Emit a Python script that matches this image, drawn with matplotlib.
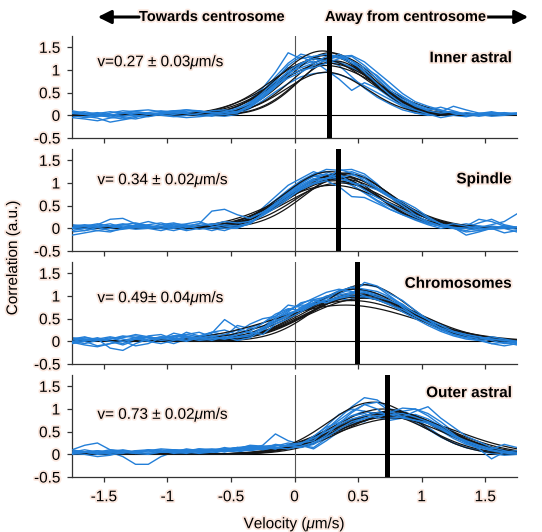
import numpy as np
import matplotlib
matplotlib.use("Agg")
import matplotlib.pyplot as plt
import matplotlib.patheffects as pe

plt.rcParams['font.family'] = ['Liberation Sans', 'DejaVu Sans']
plt.rcParams['mathtext.fontset'] = 'custom'
plt.rcParams['mathtext.rm'] = 'Liberation Sans'
plt.rcParams['mathtext.it'] = 'Liberation Sans:italic'

# ---------------- data ----------------
velocity = [-1.75, -1.65, -1.55, -1.45, -1.35, -1.25, -1.15, -1.05, -0.95, -0.85,
            -0.75, -0.65, -0.55, -0.45, -0.35, -0.25, -0.15, -0.05, 0.05, 0.15,
            0.25, 0.35, 0.45, 0.55, 0.65, 0.75, 0.85, 0.95, 1.05, 1.15,
            1.25, 1.35, 1.45, 1.55, 1.65, 1.75]

panel_names = ["Inner astral", "Spindle", "Chromosomes", "Outer astral"]
panel_speeds = ["v=0.27 \u00b1 0.03$\\mathit{\\mu}$m/s",
                "v= 0.34 \u00b1 0.02$\\mathit{\\mu}$m/s",
                "v= 0.49\u00b1 0.04$\\mathit{\\mu}$m/s",
                "v= 0.73 \u00b1 0.02$\\mathit{\\mu}$m/s"]
mean_velocity = [0.27, 0.34, 0.49, 0.73]

inner_traces = [
    [0.08,0.04,0.00,-0.04,0.02,0.05,0.03,0.06,0.04,0.02,0.05,0.08,0.10,0.18,0.35,0.60,0.95,1.38,1.25,1.30,1.20,1.10,0.85,0.60,0.40,0.25,0.12,0.05,0.02,0.04,0.02,0.05,0.03,0.00,0.02,0.01],
    [-0.05,-0.08,-0.12,-0.06,-0.02,0.00,-0.03,0.02,-0.02,-0.05,-0.03,0.00,0.02,0.08,0.22,0.45,0.70,0.98,1.15,1.25,1.20,1.35,1.20,0.95,0.70,0.45,0.25,0.12,0.03,-0.05,0.00,0.06,0.02,-0.02,0.00,0.03],
    [0.02,-0.02,-0.06,-0.15,-0.10,-0.05,0.05,0.00,0.08,0.05,0.02,-0.02,0.05,0.12,0.30,0.55,0.80,1.05,1.10,1.20,1.00,0.80,0.55,0.72,0.60,0.40,0.22,0.10,0.02,0.08,0.20,0.12,0.05,0.02,0.05,0.04],
    [0.10,0.05,0.02,0.00,0.06,0.10,0.12,0.08,0.10,0.12,0.08,0.05,0.08,0.15,0.28,0.50,0.75,0.95,1.05,1.15,1.30,1.28,1.15,1.00,0.80,0.55,0.35,0.20,0.10,0.05,0.08,0.02,0.04,0.08,0.03,0.05],
    [-0.03,0.00,0.04,0.08,0.05,0.00,-0.02,0.05,0.10,0.08,0.03,0.00,-0.02,0.02,0.15,0.32,0.52,0.70,0.85,0.92,0.95,0.90,0.80,0.65,0.50,0.35,0.20,0.10,0.05,0.02,0.00,-0.03,0.02,0.05,0.02,0.00],
    [0.05,0.08,0.02,-0.04,-0.08,-0.02,0.02,0.05,0.02,0.06,0.10,0.06,0.02,0.05,0.20,0.42,0.68,0.90,1.12,1.30,1.35,1.30,1.20,1.05,0.88,0.62,0.40,0.22,0.12,0.18,0.10,0.02,0.00,0.03,0.06,0.02],
    [0.00,-0.05,-0.02,0.05,0.10,0.08,0.04,0.02,0.05,0.00,0.02,0.08,0.05,0.10,0.25,0.48,0.78,1.10,1.30,1.15,1.25,1.18,1.05,0.90,0.70,0.50,0.30,0.15,0.08,0.02,0.05,0.02,-0.02,0.02,0.00,0.02],
    [0.04,0.02,0.00,0.02,-0.02,0.04,0.06,0.10,0.06,0.04,0.00,0.02,0.06,0.08,0.18,0.38,0.62,0.88,1.00,1.05,1.15,1.25,1.30,1.10,0.85,0.60,0.42,0.25,0.15,0.10,0.05,0.00,0.04,0.06,0.04,0.03],
    [0.00,0.03,0.06,0.02,-0.05,-0.08,-0.02,0.03,0.08,0.12,0.10,0.05,0.03,0.10,0.25,0.52,0.85,1.15,1.35,1.28,1.22,1.15,1.08,0.90,0.65,0.42,0.20,0.05,0.00,0.03,0.05,0.03,0.00,0.02,0.03,0.02],
    [0.06,0.02,-0.02,0.00,0.04,0.08,0.05,0.00,-0.03,0.00,0.04,0.10,0.12,0.08,0.18,0.40,0.65,0.82,0.95,1.10,1.22,1.30,1.32,1.18,0.95,0.72,0.48,0.30,0.20,0.12,0.05,0.02,0.00,0.01,0.03,0.05],
]
spindle_traces = [
    [0.05,0.02,0.08,0.20,0.22,0.10,0.05,0.02,0.08,0.05,0.00,0.05,0.10,0.15,0.25,0.40,0.62,0.85,1.05,1.20,1.25,1.15,1.05,0.90,0.70,0.52,0.35,0.22,0.12,0.05,0.02,0.05,0.20,0.15,0.05,0.00],
    [-0.15,-0.10,-0.05,0.00,0.05,0.02,0.00,-0.05,0.02,0.05,0.10,0.38,0.42,0.30,0.22,0.35,0.55,0.72,0.90,1.05,1.10,1.20,1.00,0.95,0.85,0.68,0.60,0.45,0.25,0.10,0.00,-0.05,0.02,0.08,0.15,0.32],
    [0.08,0.05,0.00,0.05,0.10,0.05,0.08,0.12,0.05,0.00,0.05,0.02,0.05,0.12,0.22,0.38,0.58,0.80,1.00,1.18,1.30,1.28,1.30,1.20,0.98,0.70,0.45,0.28,0.15,0.08,0.02,-0.15,-0.08,0.00,0.05,0.02],
    [0.00,0.05,0.02,-0.05,-0.02,0.02,0.05,0.00,-0.05,0.02,0.05,0.10,0.05,0.02,0.10,0.30,0.50,0.68,0.85,0.98,1.05,0.92,0.70,0.68,0.55,0.42,0.30,0.20,0.10,0.05,0.00,-0.08,-0.05,0.00,-0.10,-0.05],
    [-0.08,-0.05,0.00,0.03,0.08,0.12,0.06,0.02,0.00,-0.02,0.05,0.00,-0.05,0.05,0.20,0.45,0.70,0.95,1.10,1.25,1.15,1.05,0.95,0.78,0.60,0.42,0.30,0.18,0.08,0.00,0.05,0.10,0.05,0.02,0.00,-0.08],
    [0.02,0.00,-0.05,-0.08,0.00,0.05,0.02,0.08,0.12,0.05,0.10,0.08,0.15,0.12,0.15,0.28,0.45,0.65,0.88,1.00,1.10,1.12,1.18,1.10,0.90,0.72,0.55,0.38,0.22,0.10,0.02,0.00,0.05,0.02,0.05,0.02],
    [0.05,0.08,0.05,0.02,0.08,0.05,0.00,0.02,0.10,0.08,0.02,-0.05,0.02,0.10,0.18,0.35,0.55,0.78,0.98,1.15,1.20,1.12,0.95,0.80,0.62,0.48,0.32,0.20,0.12,0.05,0.00,0.02,-0.02,0.05,0.02,0.00],
    [-0.05,0.00,0.05,0.10,0.02,-0.02,0.00,0.04,0.00,0.05,-0.02,0.02,0.08,0.05,0.12,0.30,0.52,0.75,0.95,1.10,1.08,1.30,1.22,1.05,0.88,0.70,0.50,0.30,0.15,0.05,0.10,0.05,0.00,-0.02,0.00,0.03],
    [0.02,0.05,0.10,0.05,0.00,0.08,0.15,0.08,0.02,-0.05,0.00,0.05,0.02,0.08,0.20,0.40,0.62,0.82,1.02,1.15,1.12,1.18,1.25,1.15,0.95,0.75,0.55,0.35,0.20,0.08,0.00,0.02,0.12,0.20,0.08,0.02],
    [0.00,-0.05,0.02,0.05,0.00,0.05,0.02,0.00,0.05,0.10,0.15,0.05,0.00,0.00,0.12,0.32,0.55,0.72,0.92,1.08,1.20,1.10,1.02,0.85,0.68,0.55,0.40,0.25,0.12,0.05,0.02,0.00,-0.05,0.00,0.02,-0.02],
]
chromosome_traces = [
    [0.05,0.00,-0.10,-0.05,0.02,0.08,0.10,0.05,0.12,0.15,0.10,0.20,0.15,0.25,0.18,0.30,0.45,0.60,0.72,0.85,0.95,1.05,1.15,1.25,1.20,1.00,0.80,0.60,0.45,0.30,0.18,0.10,0.05,0.08,0.02,-0.05],
    [-0.05,0.00,0.05,-0.15,-0.20,-0.05,0.05,0.10,0.08,0.02,0.10,0.18,0.48,0.30,0.20,0.15,0.38,0.50,0.65,0.80,0.90,0.95,1.00,0.98,0.92,0.80,0.70,0.55,0.42,0.30,0.20,0.12,0.05,0.10,0.05,0.00],
    [0.02,0.08,0.05,0.10,0.05,0.00,0.12,0.15,0.05,0.20,0.12,0.08,0.15,0.10,0.30,0.40,0.55,0.70,0.80,0.78,0.95,1.02,1.08,1.12,1.05,0.95,0.82,0.62,0.45,0.32,0.20,0.12,0.08,0.02,0.05,0.00],
    [0.00,-0.05,0.02,0.08,0.00,-0.10,-0.05,0.08,0.12,0.10,0.05,0.08,0.05,0.15,0.22,0.40,0.60,0.72,0.68,0.85,0.98,1.10,1.20,1.15,1.10,0.98,0.75,0.55,0.40,0.25,0.15,0.08,0.02,-0.05,-0.02,-0.08],
    [0.08,0.05,0.00,0.05,0.10,0.12,0.08,0.02,-0.05,0.05,0.12,0.20,0.25,0.15,0.10,0.22,0.45,0.65,0.85,0.92,0.88,0.95,0.90,0.98,0.95,0.85,0.72,0.60,0.50,0.38,0.25,0.15,0.10,0.05,0.00,0.02],
    [-0.02,-0.08,-0.12,-0.05,0.00,0.05,0.00,-0.05,0.02,0.08,0.02,0.05,0.10,0.02,0.08,0.25,0.42,0.55,0.75,0.90,0.85,0.95,1.05,1.30,1.22,1.05,0.90,0.68,0.48,0.28,0.15,0.08,0.10,0.05,0.02,0.00],
    [0.05,0.02,0.08,0.00,-0.08,0.02,0.10,0.05,0.10,0.15,0.20,0.10,0.05,0.20,0.38,0.50,0.55,0.80,0.75,0.85,1.00,1.05,0.95,1.05,1.00,0.90,0.75,0.65,0.45,0.30,0.20,0.15,0.05,-0.05,-0.10,-0.05],
    [0.00,0.05,0.02,0.05,0.12,0.08,0.02,0.10,0.05,0.00,0.08,0.12,0.05,0.10,0.15,0.28,0.50,0.68,0.82,0.95,1.08,1.15,1.10,1.00,0.92,0.82,0.65,0.50,0.35,0.22,0.12,0.05,0.02,0.05,0.02,-0.02],
    [0.05,0.10,0.02,0.00,0.08,0.15,0.10,0.05,0.18,0.12,0.05,0.15,0.10,0.35,0.28,0.32,0.52,0.62,0.70,0.92,0.98,1.12,1.18,1.10,1.02,0.88,0.78,0.58,0.40,0.28,0.18,0.10,0.08,0.05,0.00,-0.02],
    [-0.02,0.02,0.05,0.00,-0.05,0.05,0.08,0.02,0.05,0.10,0.08,0.02,0.10,0.08,0.12,0.30,0.45,0.58,0.70,0.82,0.90,0.98,1.05,1.08,0.98,0.90,0.78,0.62,0.48,0.35,0.22,0.15,0.10,0.02,-0.05,-0.02],
]
outer_traces = [
    [0.10,0.20,0.25,0.10,0.05,0.00,0.02,0.05,0.08,0.05,0.10,0.12,0.10,0.15,0.12,0.20,0.45,0.30,0.22,0.35,0.55,0.80,1.05,1.25,1.20,1.00,0.85,0.70,0.55,0.38,0.25,0.15,0.10,0.05,0.08,0.05],
    [0.02,0.00,-0.05,-0.02,0.05,0.02,0.00,0.05,0.10,0.08,0.05,0.10,0.08,0.12,0.18,0.15,0.20,0.18,0.25,0.30,0.55,0.75,0.95,1.10,1.00,0.80,0.82,0.95,1.05,0.80,0.60,0.40,0.28,0.15,0.08,0.02],
    [0.05,0.02,0.00,0.05,-0.05,-0.22,-0.22,-0.05,0.05,0.10,0.05,0.02,0.08,0.05,0.10,0.12,0.15,0.12,0.20,0.15,0.35,0.60,0.85,0.95,0.90,0.80,0.85,0.78,0.60,0.40,0.25,0.15,0.08,0.02,-0.02,0.00],
    [0.00,0.05,0.02,0.08,0.05,0.02,0.10,0.08,0.02,0.05,0.12,0.08,0.15,0.10,0.08,0.12,0.22,0.18,0.22,0.40,0.60,0.70,0.85,0.90,0.80,0.92,1.02,1.00,0.85,0.65,0.45,0.25,0.12,-0.10,0.05,0.08],
    [0.08,0.05,0.08,0.02,0.00,0.05,0.08,0.02,0.05,0.12,0.08,0.05,0.10,0.15,0.18,0.12,0.10,0.15,0.18,0.28,0.45,0.62,0.70,0.72,0.88,1.00,0.95,0.85,0.70,0.52,0.35,0.22,0.15,0.10,0.05,0.02],
    [0.05,0.10,0.05,0.00,0.02,0.08,0.05,0.10,0.05,0.02,0.08,0.10,0.05,0.12,0.20,0.18,0.12,0.20,0.15,0.22,0.38,0.55,0.72,0.80,0.85,0.88,0.90,0.82,0.72,0.60,0.42,0.30,0.20,0.12,0.22,0.15],
    [0.02,0.00,0.05,0.10,0.08,0.05,0.00,0.02,0.08,0.10,0.05,0.08,0.12,0.08,0.12,0.15,0.18,0.25,0.20,0.12,0.30,0.50,0.68,0.78,0.82,0.75,0.80,0.88,0.78,0.62,0.48,0.32,0.20,0.12,0.05,0.02],
    [0.10,0.05,0.02,0.05,0.10,0.05,0.08,0.12,0.10,0.05,0.02,0.05,0.08,0.10,0.15,0.10,0.15,0.12,0.18,0.25,0.42,0.68,0.92,1.10,1.15,0.95,0.82,0.75,0.68,0.55,0.40,0.28,0.18,0.10,0.05,0.03],
    [0.05,0.02,0.08,0.05,0.02,0.08,0.10,0.05,0.02,0.08,0.12,0.10,0.08,0.12,0.15,0.18,0.20,0.15,0.25,0.38,0.62,0.88,1.00,0.95,0.88,0.82,0.95,1.00,0.90,0.72,0.50,0.32,0.18,0.10,0.05,0.02],
    [0.02,0.05,0.00,0.02,0.08,0.05,0.02,0.05,0.10,0.08,0.05,0.10,0.12,0.15,0.10,0.15,0.12,0.22,0.25,0.35,0.50,0.65,0.78,0.85,0.92,0.88,0.80,0.75,0.70,0.58,0.40,0.25,0.15,0.08,0.03,0.00],
]
panel_traces = [inner_traces, spindle_traces, chromosome_traces, outer_traces]

# Gaussian fit parameters for each trace (amplitude, centre, width)
fit_amplitude = [
    [1.42, 1.38, 1.32, 1.28, 1.25, 1.20, 1.15, 1.10, 0.95, 1.30],
    [1.25, 1.22, 1.18, 1.15, 1.12, 1.10, 1.05, 1.00, 1.20, 0.95],
    [1.25, 1.15, 1.05, 1.02, 1.00, 0.98, 0.95, 0.90, 0.80, 1.00],
    [1.15, 1.00, 0.95, 0.92, 0.90, 0.88, 0.85, 0.82, 0.80, 0.95],
]
fit_center = [
    [0.22, 0.28, 0.25, 0.30, 0.20, 0.32, 0.26, 0.24, 0.25, 0.35],
    [0.28, 0.38, 0.34, 0.30, 0.40, 0.35, 0.32, 0.36, 0.42, 0.30],
    [0.55, 0.48, 0.50, 0.52, 0.46, 0.50, 0.55, 0.45, 0.40, 0.50],
    [0.62, 0.70, 0.75, 0.72, 0.80, 0.68, 0.78, 0.74, 0.82, 0.76],
]
fit_width = [
    [0.34, 0.33, 0.36, 0.32, 0.38, 0.30, 0.40, 0.42, 0.32, 0.30],
    [0.36, 0.38, 0.40, 0.35, 0.37, 0.42, 0.38, 0.40, 0.34, 0.44],
    [0.36, 0.40, 0.42, 0.40, 0.44, 0.42, 0.45, 0.50, 0.56, 0.40],
    [0.36, 0.40, 0.42, 0.44, 0.40, 0.38, 0.45, 0.42, 0.48, 0.40],
]

y_ticks = [-0.5, 0, 0.5, 1, 1.5]
y_tick_labels = ["-0.5", "0", "0.5", "1", "1.5"]
x_ticks = [-1.5, -1, -0.5, 0, 0.5, 1, 1.5]
x_tick_labels = ["-1.5", "-1", "-0.5", "0", "0.5", "1", "1.5"]

# ---------------- drawing ----------------
W, H = 542, 532
fig = plt.figure(figsize=(W / 100, H / 100), dpi=100)
halo = [pe.withStroke(linewidth=2.5, foreground='#fbe8df')]

blue = '#237fd8'
left_px, right_px = 72, 517
tops = [36, 149, 262, 375]
ax_h = 102
xfine = np.linspace(-1.75, 1.75, 300)
fs = 11
speed_y = [1.17, 1.06, 0.95, 0.87]
name_y = [1.26, 1.08, 1.27, 1.35]

for i in range(4):
    ax = fig.add_axes([left_px / W, 1 - (tops[i] + ax_h) / H,
                       (right_px - left_px) / W, ax_h / H])
    ax.set_xlim(-1.75, 1.75)
    ax.set_ylim(-0.5, 1.75)
    for k, tr in enumerate(panel_traces[i]):
        ax.plot(velocity, tr, color=blue, lw=1.0, zorder=2 if k % 2 == 0 else 4)
    for a, c, s in zip(fit_amplitude[i], fit_center[i], fit_width[i]):
        ax.plot(xfine, a * np.exp(-0.5 * ((xfine - c) / s) ** 2),
                color='#151515', lw=0.9, zorder=3)
    ax.axhline(0, color='black', lw=0.8, zorder=1)
    ax.axvline(0, color='#555555', lw=0.8, zorder=1)
    ax.axvline(mean_velocity[i], color='black', lw=3.6, zorder=5)

    for sp in ['top', 'right']:
        ax.spines[sp].set_visible(False)
    for sp in ['left', 'bottom']:
        ax.spines[sp].set_color('#333333')
        ax.spines[sp].set_linewidth(0.9)
    ax.set_yticks(y_ticks)
    ax.set_yticklabels(y_tick_labels, fontsize=fs)
    ax.set_xticks(x_ticks)
    if i == 3:
        ax.set_xticklabels(x_tick_labels, fontsize=fs)
    else:
        ax.set_xticklabels([])
    ax.tick_params(axis='x', direction='out', length=3.5, width=0.9, color='#333333', pad=6)
    ax.tick_params(axis='y', direction='out', length=3.5, width=0.9, color='#333333', pad=5)
    for lab in ax.get_xticklabels() + ax.get_yticklabels():
        lab.set_path_effects(halo)

    ax.text(-1.55, speed_y[i], panel_speeds[i], fontsize=fs, ha='left', va='center',
            path_effects=halo)
    ax.text(1.71, name_y[i], panel_names[i], fontsize=fs, fontweight='bold',
            ha='right', va='center', path_effects=halo)

fig.axes[3].set_xlabel("Velocity ($\\mathit{\\mu}$m/s)", fontsize=fs, labelpad=8,
                       path_effects=halo)
fig.text(13 / W, 1 - 258 / H, "Correlation (a.u.)", rotation=90, fontsize=fs,
         ha='center', va='center', path_effects=halo)

# header arrows and labels
fig.text(139 / W, 1 - 17 / H, "Towards centrosome", fontsize=10.5, fontweight='bold',
         ha='left', va='center', path_effects=halo)
fig.text(325 / W, 1 - 17 / H, "Away from centrosome", fontsize=10.5, fontweight='bold',
         ha='left', va='center', path_effects=halo)
fig.patches.append(matplotlib.patches.FancyArrowPatch(
    (142 / W, 1 - 17 / H), (95 / W, 1 - 17 / H), transform=fig.transFigure,
    arrowstyle='-|>,head_length=8,head_width=4', mutation_scale=1, lw=2.2, color='black'))
fig.patches.append(matplotlib.patches.FancyArrowPatch(
    (470 / W, 1 - 17 / H), (531 / W, 1 - 17 / H), transform=fig.transFigure,
    arrowstyle='-|>,head_length=8,head_width=4', mutation_scale=1, lw=2.2, color='black'))

fig.savefig("out.png", dpi=100)
